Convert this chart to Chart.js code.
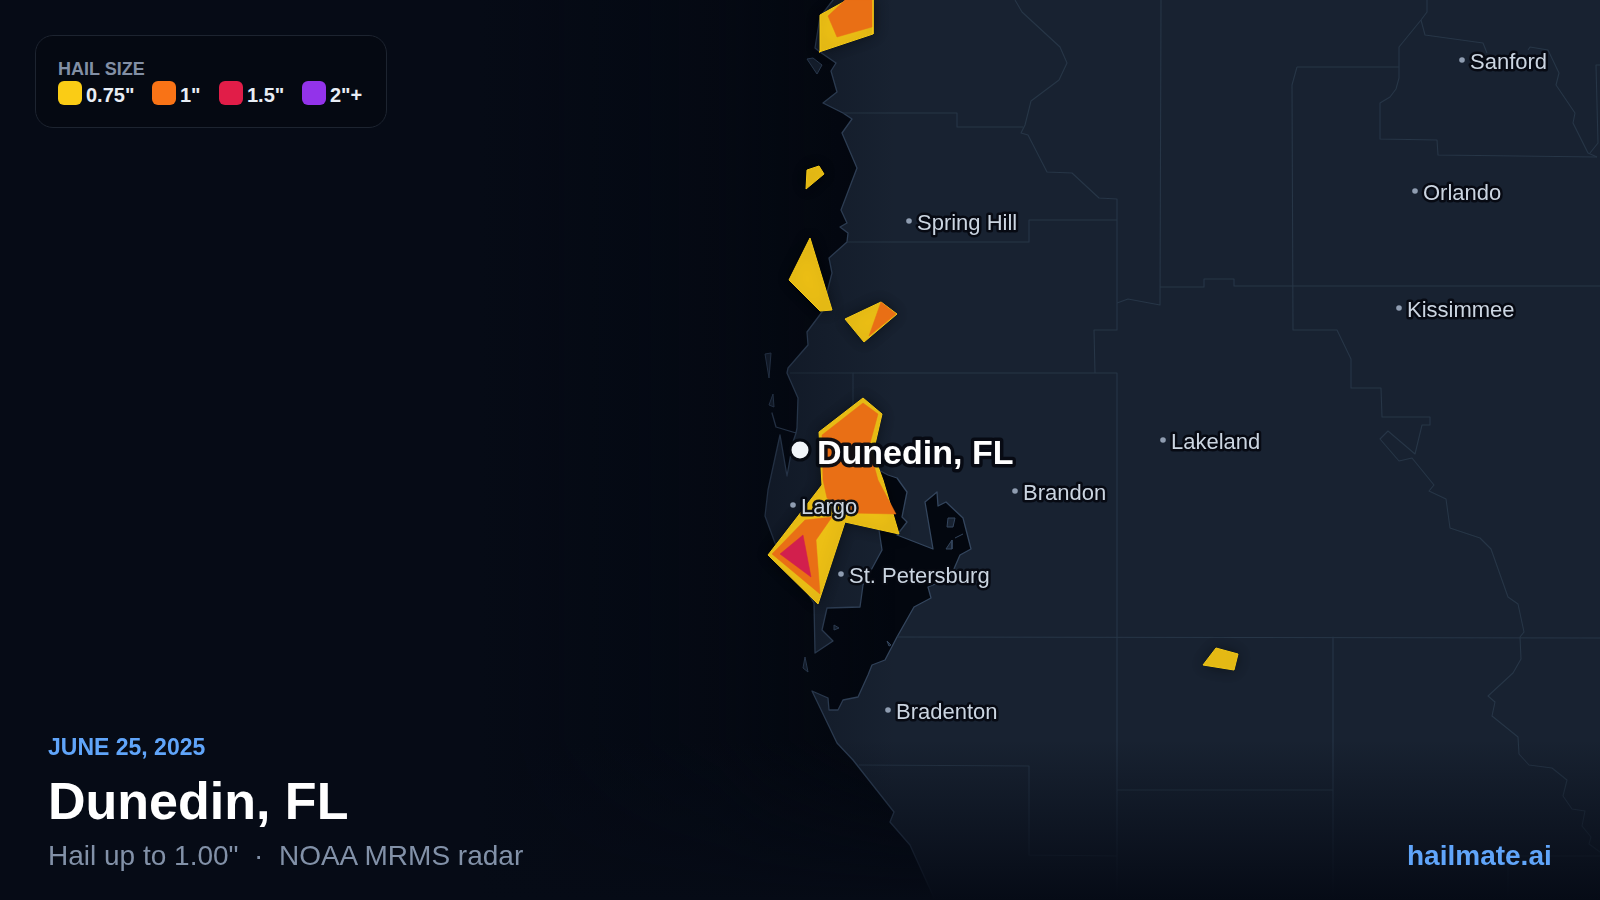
<!DOCTYPE html>
<html>
<head>
<meta charset="utf-8">
<title>Dunedin, FL hail map</title>
<script src="https://cdn.jsdelivr.net/npm/chart.js@4/dist/chart.umd.min.js"></script>
<style>
  html, body { margin: 0; padding: 0; background: #03070f; width: 1600px; height: 900px; overflow: hidden; font-family: "Liberation Sans", Arial, sans-serif; }
  #wrap { position: absolute; left: 0; top: 0; width: 1600px; height: 900px; }
  .t { position: absolute; white-space: pre; line-height: 1; }
  #box { position: absolute; left: 35px; top: 35px; width: 350px; height: 91px; border: 1px solid #1d2430; border-radius: 18px; background: #050912; }
  .sw { position: absolute; top: 81px; width: 24px; height: 24px; border-radius: 6px; }
  .lab { font-weight: bold; font-size: 20px; color: #e8edf5; top: 85px; }
</style>
</head>
<body>
<div id="wrap"><canvas id="map"></canvas></div>
<div id="box"></div>
<div class="t" style="left:58px;top:60px;font-size:18px;font-weight:bold;color:#828fa5">HAIL SIZE</div>
<div class="sw" style="left:58px;background:#facc15"></div><div class="t lab" style="left:86px">0.75"</div>
<div class="sw" style="left:152px;background:#f97316"></div><div class="t lab" style="left:180px">1"</div>
<div class="sw" style="left:219px;background:#e11d48"></div><div class="t lab" style="left:247px">1.5"</div>
<div class="sw" style="left:302px;background:#9333ea"></div><div class="t lab" style="left:330px">2"+</div>
<div class="t" style="left:48px;top:736px;font-size:23px;font-weight:bold;color:#60a5fa">JUNE 25, 2025</div>
<div class="t" style="left:48px;top:775px;font-size:52px;font-weight:bold;color:#fff">Dunedin, FL</div>
<div class="t" style="left:48px;top:842px;font-size:28px;color:#8291a8">Hail up to 1.00"  ·  NOAA MRMS radar</div>
<div class="t" style="left:1407px;top:842px;font-size:28px;font-weight:bold;color:#60a5fa">hailmate.ai</div>
<script>
// map data
const land = [[833,-10],[833,0],[820,17],[815,48],[820,52],[836,63],[831,71],[837,92],[823,103],[843,113],[852,119],[842,133],[857,168],[841,210],[847,223],[840,227],[848,233],[847,242],[829,258],[832,273],[822,312],[807,332],[808,345],[788,368],[787,373],[798,398],[797,428],[796,433],[776,427],[772,413],[776,427],[796,433],[793,442],[787,476],[780,435],[768,490],[765,516],[775,543],[814,603],[815,653],[833,641],[822,630],[827,608],[860,607],[863,585],[882,550],[879,530],[873,467],[888,475],[897,478],[907,492],[902,517],[907,522],[897,535],[933,549],[925,502],[937,492],[938,506],[946,502],[963,518],[971,549],[960,555],[950,578],[928,587],[931,598],[914,607],[897,637],[885,660],[872,665],[868,675],[858,697],[843,700],[838,710],[829,710],[828,698],[812,691],[837,743],[853,760],[894,812],[890,822],[910,845],[935,900],[940,910],[1610,910],[1610,-10],[833,-10]];
const islands = [
  [[807,59],[813,58],[822,65],[817,74],[807,59]],
  [[765,354],[771,353],[769,378],[765,354]],
  [[773,394],[774,407],[769,405],[773,394]],
  [[805,657],[808,672],[803,668],[805,657]],
  [[948,518],[955,518],[953,527],[947,527],[948,518]],
  [[952,540],[952,549],[946,549],[952,540]],
  [[834,625],[839,628],[834,630],[834,625]],
  [[887,641],[891,645],[889,646],[887,641]]
];
const bayLine = [[955,538],[963,534]];
const countyLines = [
  [[1015,0],[1022,12],[1060,47],[1067,63],[1059,80],[1031,101],[1025,125],[1021,133],[1028,135],[1047,172],[1072,173],[1099,198],[1117,199],[1117,330],[1094,330],[1095,373]],
  [[843,113],[957,113],[957,127],[1023,127]],
  [[847,242],[1029,242],[1029,220],[1117,220]],
  [[790,373],[1117,373],[1117,900]],
  [[853,373],[853,425]],
  [[897,637],[1600,638]],
  [[1333,637],[1333,900]],
  [[1117,790],[1333,790]],
  [[859,765],[1029,766],[1029,855],[1117,856]],
  [[1161,0],[1160,305],[1128,299],[1117,303]],
  [[1160,287],[1204,287],[1204,279],[1234,279],[1234,286],[1600,286]],
  [[1297,67],[1292,85],[1293,330],[1337,330],[1351,359],[1351,388],[1381,388],[1382,417],[1430,417],[1430,425],[1422,425],[1415,454],[1388,431],[1380,439],[1399,461],[1412,458],[1434,485],[1429,491],[1446,499],[1450,528],[1480,538],[1491,549],[1508,597],[1518,604],[1524,632],[1520,637],[1521,659],[1513,673],[1488,696],[1495,702],[1492,716],[1518,737],[1519,754],[1529,765],[1552,768],[1567,780],[1563,796],[1572,809],[1585,811],[1582,826],[1591,837],[1589,844],[1600,852]],
  [[1297,67],[1399,67]],
  [[1427,0],[1427,12],[1421,20],[1399,47],[1399,78],[1396,89],[1390,97],[1380,103],[1380,139],[1437,140],[1438,155],[1597,157]],
  [[1421,20],[1425,35],[1483,43],[1487,53]],
  [[1528,50],[1530,47],[1548,50],[1559,73],[1556,85],[1575,113],[1573,123],[1588,153],[1597,157]],
  [[1600,65],[1596,65],[1598,143],[1590,153]],
  [[1508,856],[1600,856]],
  [[1508,856],[1508,900]]
];

// hail swaths per size class
const hailYellow = [
  [[820,15],[847,0],[873,0],[873,34],[819,52],[820,15]],
  [[807,170],[819,166],[824,174],[806,189],[807,170]],
  [[810,238],[789,280],[820,311],[832,310],[810,238]],
  [[845,319],[881,302],[897,314],[864,342],[845,319]],
  [[863,398],[882,414],[873,453],[883,480],[899,534],[845,522],[818,604],[768,555],[822,485],[819,432],[863,398]],
  [[1216,648],[1238,654],[1234,670],[1203,665],[1216,648]]
];
const hailOrange = [
  [[845,0],[828,16],[837,37],[872,27],[872,0],[845,0]],
  [[881,302],[896,314],[869,336],[881,302]],
  [[863,403],[878,414],[869,447],[878,480],[896,514],[850,513],[827,498],[823,480],[822,435],[863,403]],
  [[772,554],[805,520],[832,517],[816,540],[820,594],[772,554]]
];
const hailRed = [
  [[803,535],[780,554],[811,577],[803,535]]
];

// places
const cityNames = ['Sanford', 'Orlando', 'Spring Hill', 'Kissimmee', 'Lakeland', 'Brandon', 'Largo', 'St. Petersburg', 'Bradenton'];
const cityX = [1462, 1415, 909, 1399, 1163, 1015, 793, 841, 888];
const cityY = [60, 191, 221, 308, 440, 491, 505, 574, 710];
const homeName = 'Dunedin, FL';
const homeX = 800;
const homeY = 450;

const pts = arr => arr.map(p => ({ x: p[0], y: p[1] }));
const datasets = [];
const poly = (arr, fillCol, lineCol, lineW) => datasets.push({
  data: pts(arr), showLine: true, pointRadius: 0, tension: 0,
  fill: fillCol ? 'shape' : false, backgroundColor: fillCol || 'transparent',
  borderColor: lineCol, borderWidth: lineW, borderJoinStyle: 'round'
});

poly(land, '#182231', '#34465e', 1.3);
islands.forEach(i => poly(i, '#182231', '#34465e', 1));
poly(bayLine, null, '#34465e', 1);
countyLines.forEach(l => poly(l, null, '#273647', 1.1));
const lastMap = datasets.length - 1;
hailYellow.forEach(h => poly(h, '#ecbf15', '#f2c815', 1));
const lastYellow = datasets.length - 1;
hailOrange.forEach(h => poly(h, '#e96f15', '#e96f15', 0.5));
hailRed.forEach(h => poly(h, '#d21f4d', '#d21f4d', 0.5));
datasets.push({ data: cityX.map((x, i) => ({ x: x, y: cityY[i] })), pointRadius: 2.8, pointBackgroundColor: '#8f9db1', pointBorderWidth: 0 });
datasets.push({ data: [{ x: homeX, y: homeY }], pointRadius: 10, pointBackgroundColor: '#f1f5f9', pointBorderColor: '#060a12', pointBorderWidth: 3 });
datasets.forEach((d, i) => { d.order = datasets.length - i; });

const overlay = {
  id: 'overlay',
  afterDatasetDraw(chart, args) {
    const ctx = chart.ctx;
    if (args.index === lastMap) {
      // fades over the map, under the hail
      let g = ctx.createLinearGradient(0, 0, 1600, 0);
      g.addColorStop(0, 'rgba(6,11,22,1)');
      g.addColorStop(0.30, 'rgba(6,11,22,1)');
      g.addColorStop(0.45, 'rgba(6,11,22,0.6)');
      g.addColorStop(0.48, 'rgba(6,11,22,0.4)');
      g.addColorStop(0.56, 'rgba(6,11,22,0)');
      ctx.fillStyle = g;
      ctx.fillRect(0, 0, 1600, 900);
      g = ctx.createLinearGradient(0, 740, 0, 900);
      g.addColorStop(0, 'rgba(6,11,22,0)');
      g.addColorStop(1, 'rgba(6,11,22,1)');
      ctx.fillStyle = g;
      ctx.fillRect(0, 740, 1600, 160);
      ctx.shadowColor = 'rgba(0,0,0,0.45)';
      ctx.shadowBlur = 14;
    }
    if (args.index === lastYellow) {
      ctx.shadowColor = 'transparent';
      ctx.shadowBlur = 0;
    }
  },
  afterDatasetsDraw(chart) {
    const ctx = chart.ctx;
    const sx = chart.scales.x, sy = chart.scales.y;
    ctx.save();
    ctx.lineJoin = 'round';
    ctx.font = '22px "Liberation Sans", Arial, sans-serif';
    cityNames.forEach((name, i) => {
      const px = sx.getPixelForValue(cityX[i]) + 8;
      const py = sy.getPixelForValue(cityY[i]) + 9;
      ctx.strokeStyle = 'rgba(6,10,18,0.95)';
      ctx.lineWidth = 5;
      ctx.strokeText(name, px, py);
      ctx.fillStyle = '#cbd5e1';
      ctx.fillText(name, px, py);
    });
    ctx.font = 'bold 34px "Liberation Sans", Arial, sans-serif';
    const hx = sx.getPixelForValue(homeX) + 17;
    const hy = sy.getPixelForValue(homeY) + 14;
    ctx.strokeStyle = 'rgba(6,10,18,0.95)';
    ctx.lineWidth = 7;
    ctx.strokeText(homeName, hx, hy);
    ctx.fillStyle = '#ffffff';
    ctx.fillText(homeName, hx, hy);
    ctx.restore();
  }
};

new Chart(document.getElementById('map'), {
  type: 'scatter',
  data: { datasets: datasets },
  plugins: [overlay],
  options: {
    responsive: true,
    maintainAspectRatio: false,
    animation: false,
    events: [],
    layout: { padding: 0, autoPadding: false },
    plugins: { legend: { display: false }, tooltip: { enabled: false }, title: { display: false } },
    scales: {
      x: { type: 'linear', min: 0, max: 1600, display: false },
      y: { type: 'linear', min: 0, max: 900, reverse: true, display: false }
    }
  }
});
</script>
</body>
</html>
